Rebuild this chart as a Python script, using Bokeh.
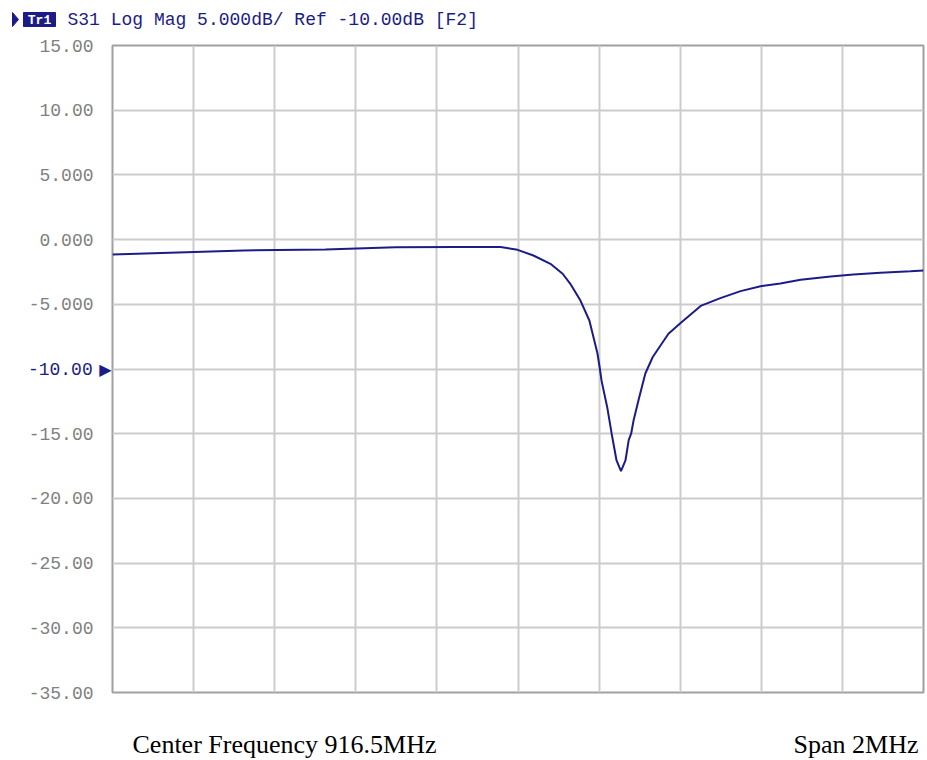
from bokeh.plotting import figure
from bokeh.models import Range1d, FixedTicker, LinearAxis
from bokeh.layouts import column
from bokeh.core.properties import value
from bokeh.embed import file_html
from bokeh.resources import INLINE

# ---- data ----
freq_mhz = [915.500, 915.823, 916.025, 916.198, 916.346, 916.457, 916.499, 916.538,
            916.580, 916.610, 916.629, 916.654, 916.676, 916.696, 916.702, 916.706,
            916.720, 916.731, 916.743, 916.754, 916.765, 916.773, 916.779, 916.785,
            916.797, 916.814, 916.819, 916.832, 916.851, 916.871, 916.901, 916.952,
            916.999, 917.049, 917.098, 917.147, 917.197, 917.271, 917.327, 917.394,
            917.468, 917.500]
s31_db = [-1.15, -0.84, -0.77, -0.60, -0.58, -0.58, -0.79, -1.23,
          -1.87, -2.64, -3.42, -4.71, -6.25, -8.80, -10.00, -10.90,
          -12.95, -15.00, -17.07, -17.90, -17.07, -15.50, -15.00, -13.98,
          -12.43, -10.35, -10.00, -9.09, -8.20, -7.28, -6.45, -5.10,
          -4.52, -3.98, -3.60, -3.40, -3.10, -2.85, -2.70, -2.57,
          -2.44, -2.38]

x_ticks = [915.5, 915.7, 915.9, 916.1, 916.3, 916.5, 916.7, 916.9, 917.1, 917.3, 917.5]
y_ticks = [15, 10, 5, 0, -5, -10, -15, -20, -25, -30, -35]
y_tick_labels = ["15.00", "10.00", "5.000", "0.000", "-5.000", "-10.00",
                 "-15.00", "-20.00", "-25.00", "-30.00", "-35.00"]
ref_level = -10
title_text = "S31 Log Mag 5.000dB/ Ref -10.00dB [F2]"
trace_name = "Tr1"
center_text = "Center Frequency 916.5MHz"
span_text = "Span 2MHz"

NAVY = "#1c1c88"
MONO = "Liberation Mono"
W = 927


def strip(fig):
    fig.outline_line_color = None
    fig.background_fill_color = "white"
    fig.border_fill_color = "white"
    fig.min_border_left = fig.min_border_right = 0
    fig.min_border_top = fig.min_border_bottom = 0
    fig.frame_align = False
    return fig


# ---- header row ----
hdr = strip(figure(width=W, height=37, output_backend="svg", toolbar_location=None,
                   x_range=Range1d(0, W), y_range=Range1d(37, 0),
                   x_axis_location=None, y_axis_location=None))
hdr.grid.visible = False
hdr.patch([12, 12, 18], [12, 26, 19], fill_color=NAVY, line_color=NAVY)
hdr.quad(left=[23], right=[55], top=[12], bottom=[26], fill_color=NAVY, line_color=NAVY)
hdr.text(x=[39], y=[19.5], text=[trace_name], text_align="center", text_baseline="middle",
         text_font=value(MONO), text_font_style="bold", text_font_size="13px",
         text_color="white")
hdr.text(x=[67], y=[19.5], text=[title_text], text_align="left", text_baseline="alphabetic",
         text_font=value(MONO), text_font_size="18px", text_color=NAVY)

# ---- main chart ----
p = figure(width=W, height=668, output_backend="svg", toolbar_location=None,
           x_range=Range1d(x_ticks[0], x_ticks[-1]), y_range=Range1d(y_ticks[-1], y_ticks[0]),
           x_axis_location=None, y_axis_location=None,
           min_border_left=112, min_border_right=4, min_border_top=8, min_border_bottom=13)
p.frame_align = False
p.background_fill_color = "white"
p.border_fill_color = "white"
p.outline_line_color = "#a0a0a0"
p.outline_line_width = 2

p.xgrid.ticker = FixedTicker(ticks=x_ticks)
p.ygrid.ticker = FixedTicker(ticks=y_ticks)
p.grid.grid_line_color = "#cccccc"
p.grid.grid_line_width = 2

# inner axis: reference-level marker
ref_axis = LinearAxis(ticker=FixedTicker(ticks=[ref_level]),
                      major_label_overrides={ref_level: "\u25B6"})
ref_axis.axis_line_color = None
ref_axis.major_tick_in = 0
ref_axis.major_tick_out = 0
ref_axis.minor_tick_line_color = None
ref_axis.major_label_standoff = 1
ref_axis.major_label_text_font = "DejaVu Sans"
ref_axis.major_label_text_font_size = "16px"
ref_axis.major_label_text_color = NAVY
p.add_layout(ref_axis, "left")

# outer axis: scale labels (reference level shown in navy as axis label)
overrides = {t: s for t, s in zip(y_ticks, y_tick_labels)}
overrides[ref_level] = ""
ya = LinearAxis(ticker=FixedTicker(ticks=y_ticks), major_label_overrides=overrides)
ya.axis_line_color = None
ya.major_tick_in = 0
ya.major_tick_out = 0
ya.minor_tick_line_color = None
ya.major_label_standoff = 3
ya.major_label_text_font = MONO
ya.major_label_text_font_size = "18px"
ya.major_label_text_color = "#808080"
ya.axis_label = y_tick_labels[y_ticks.index(ref_level)]
ya.axis_label_orientation = "horizontal"
ya.axis_label_standoff = -67
ya.axis_label_text_font = MONO
ya.axis_label_text_font_size = "18px"
ya.axis_label_text_font_style = "normal"
ya.axis_label_text_color = NAVY
p.add_layout(ya, "left")

p.line(freq_mhz, s31_db, line_color=NAVY, line_width=2)

# ---- footer row ----
ftr = strip(figure(width=W, height=55, output_backend="svg", toolbar_location=None,
                   x_range=Range1d(0, W), y_range=Range1d(55, 0),
                   x_axis_location=None, y_axis_location=None))
ftr.grid.visible = False
ftr.text(x=[132], y=[39], text=[center_text], text_align="left", text_baseline="alphabetic",
         text_font=value("Liberation Serif"), text_font_size="26px", text_color="black")
ftr.text(x=[918], y=[39], text=[span_text], text_align="right", text_baseline="alphabetic",
         text_font=value("Liberation Serif"), text_font_size="26px", text_color="black")

layout = column(hdr, p, ftr, spacing=0)
open("out.html", "w").write(file_html(layout, INLINE))
